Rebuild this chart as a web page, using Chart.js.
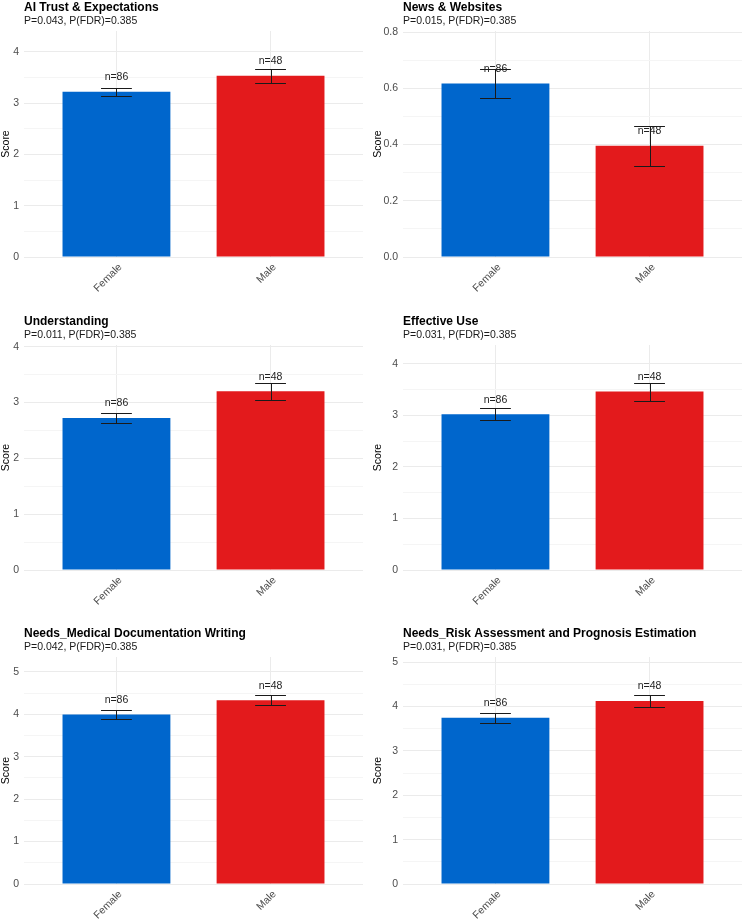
<!DOCTYPE html>
<html>
<head>
<meta charset="utf-8">
<script src="https://cdn.jsdelivr.net/npm/chart.js@4/dist/chart.umd.min.js"></script>
<style>
  html, body { margin: 0; padding: 0; background: #fff; }
  #wrap { position: relative; width: 744px; height: 920px; overflow: hidden; }
  #wrap canvas { position: absolute; }
</style>
</head>
<body>
<div id="wrap"></div>
<script>
// panel texts
var panelTitles = ['AI Trust & Expectations', 'News & Websites', 'Understanding',
    'Effective Use', 'Needs_Medical Documentation Writing', 'Needs_Risk Assessment and Prognosis Estimation'];
var pValues = ['0.043', '0.015', '0.011', '0.031', '0.042', '0.031'];
var fdrValues = ['0.385', '0.385', '0.385', '0.385', '0.385', '0.385'];

// groups
var groups = ['Female', 'Male'];
var groupN = [86, 48];

// mean score and standard error, one entry per panel
var femaleMean = [3.22, 0.617, 2.725, 3.025, 3.995, 3.75];
var femaleSE = [0.08, 0.053, 0.095, 0.115, 0.115, 0.11];
var maleMean = [3.53, 0.396, 3.205, 3.465, 4.335, 4.125];
var maleSE = [0.14, 0.071, 0.155, 0.175, 0.125, 0.14];

// major tick step of each y axis
var yStep = [1, 0.2, 1, 1, 1, 1];

var FONT = "'Liberation Sans', Arial, sans-serif";
var barColors = ['#0066CC', '#E31A1C'];

// canvas placement: rows then columns
var rows = [
    { top: 0, height: 300, axisH: 43, padTop: 0 },
    { top: 300, height: 310, axisH: 40, padTop: 14 },
    { top: 610, height: 310, axisH: 36, padTop: 16 }
];
var cols = [
    { left: 0, width: 372, axisW: 24, padRight: 9 },
    { left: 372, width: 372, axisW: 31, padRight: 2 }
];

var errorBarPlugin = {
    id: 'errorBars',
    afterDatasetsDraw: function (chart, args, opts) {
        var ctx = chart.ctx;
        var xs = chart.scales.x;
        var ys = chart.scales.y;
        ctx.save();
        ctx.strokeStyle = '#1a1a1a';
        ctx.lineWidth = 1;
        for (var i = 0; i < opts.means.length; i++) {
            var x = xs.getPixelForValue(i + 1);
            var half = (xs.getPixelForValue(i + 1.1) - xs.getPixelForValue(i + 0.9)) / 2;
            var yHi = Math.round(ys.getPixelForValue(opts.means[i] + opts.se[i])) + 0.5;
            var yLo = Math.round(ys.getPixelForValue(opts.means[i] - opts.se[i])) + 0.5;
            var xr = Math.round(x) + 0.5;
            ctx.beginPath();
            ctx.moveTo(xr, yHi); ctx.lineTo(xr, yLo);
            ctx.moveTo(x - half, yHi); ctx.lineTo(x + half, yHi);
            ctx.moveTo(x - half, yLo); ctx.lineTo(x + half, yLo);
            ctx.stroke();
        }
        // n labels
        ctx.fillStyle = '#222';
        ctx.font = '10.5px ' + FONT;
        ctx.textAlign = 'center';
        ctx.textBaseline = 'middle';
        for (var j = 0; j < opts.means.length; j++) {
            var px = xs.getPixelForValue(j + 1);
            var py = ys.getPixelForValue(opts.means[j]) - 14.5;
            ctx.fillText('n=' + groupN[j], px, py);
        }
        ctx.restore();
    }
};

function isMajor(v, step) {
    var r = v / step;
    return Math.abs(r - Math.round(r)) < 1e-6;
}

function CreatePanel(k) {
    var row = rows[Math.floor(k / 2)];
    var col = cols[k % 2];
    var canvas = document.createElement('canvas');
    canvas.width = col.width;
    canvas.height = row.height;
    canvas.style.left = col.left + 'px';
    canvas.style.top = row.top + 'px';
    document.getElementById('wrap').appendChild(canvas);

    var means = [femaleMean[k], maleMean[k]];
    var se = [femaleSE[k], maleSE[k]];
    var yMax = 1.2 * Math.max(means[0] + se[0], means[1] + se[1]);
    var step = yStep[k];

    new Chart(canvas.getContext('2d'), {
        type: 'bar',
        data: {
            datasets: [{
                data: [{ x: 1, y: means[0] }, { x: 2, y: means[1] }],
                backgroundColor: barColors,
                borderWidth: 0,
                barPercentage: 0.7,
                categoryPercentage: 1
            }]
        },
        options: {
            responsive: false,
            animation: false,
            devicePixelRatio: 1,
            layout: { padding: { top: row.padTop, right: col.padRight, left: 0, bottom: 0 } },
            plugins: {
                legend: { display: false },
                tooltip: { enabled: false },
                title: {
                    display: true, text: panelTitles[k], align: 'start', fullSize: false,
                    color: '#000', font: { family: FONT, size: 12, weight: 'bold' },
                    padding: { top: 0, bottom: 0 }
                },
                subtitle: {
                    display: true, text: 'P=' + pValues[k] + ', P(FDR)=' + fdrValues[k],
                    align: 'start', fullSize: false,
                    color: '#1a1a1a', font: { family: FONT, size: 10.5 },
                    padding: { top: 0, bottom: 4 }
                },
                errorBars: { means: means, se: se }
            },
            scales: {
                x: {
                    type: 'linear', min: 0.4, max: 2.6, offset: false,
                    afterBuildTicks: function (s) { s.ticks = [{ value: 1 }, { value: 2 }]; },
                    afterFit: function (s) { s.height = row.axisH; },
                    ticks: {
                        callback: function (v) { return groups[v - 1]; },
                        minRotation: 45, maxRotation: 45, autoSkip: false,
                        color: '#4d4d4d', font: { family: FONT, size: 10.5 },
                        padding: 4, labelOffset: 4
                    },
                    grid: { color: '#ebebeb', drawTicks: false, offset: false },
                    border: { display: false }
                },
                y: {
                    min: 0, max: yMax,
                    afterFit: function (s) { s.width = col.axisW; },
                    title: {
                        display: true, text: 'Score', color: '#000',
                        font: { family: FONT, size: 10.5 }, padding: 0
                    },
                    ticks: {
                        stepSize: step / 2, includeBounds: false, padding: 5,
                        color: '#4d4d4d', font: { family: FONT, size: 10.5 },
                        callback: function (v) {
                            if (!isMajor(v, step)) return '';
                            return step < 1 ? v.toFixed(1) : String(Math.round(v));
                        }
                    },
                    grid: {
                        drawTicks: false,
                        color: function (c) {
                            return c.tick && isMajor(c.tick.value, step) ? '#ebebeb' : '#f5f5f5';
                        }
                    },
                    border: { display: false }
                }
            }
        },
        plugins: [errorBarPlugin]
    });
}

for (var k = 0; k < panelTitles.length; k++) {
    CreatePanel(k);
}
</script>
</body>
</html>
